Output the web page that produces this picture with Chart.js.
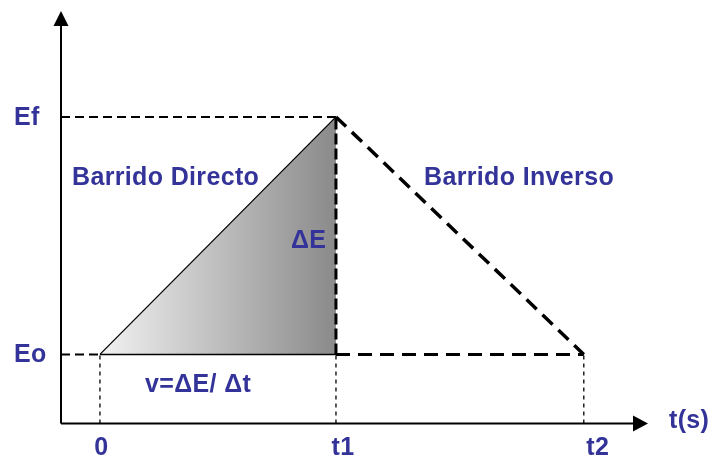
<!DOCTYPE html>
<html>
<head>
<meta charset="utf-8">
<script src="https://cdn.jsdelivr.net/npm/chart.js@4/dist/chart.umd.min.js"></script>
<style>
  html, body { margin: 0; padding: 0; background: #ffffff; }
  #wrap { width: 715px; height: 457px; }
</style>
</head>
<body>
<div id="wrap"><canvas id="c" width="715" height="457"></canvas></div>
<script>
// ---- data ----
const timeValues = [0, 1, 2.05];          // 0, t1, t2
const timeLabels = ['0', 't1', 't2'];
const potentialValues = [1, 2];           // Eo, Ef
const potentialLabels = ['Eo', 'Ef'];
const axisMin = { x: -0.165, y: 0.709 };  // axis origin
const axisMax = { x: 2.322, y: 2.446 };   // arrow tips
const sweepForward = [{x: 0, y: 1}, {x: 1, y: 2}];     // Barrido Directo
const sweepReverse = [{x: 1, y: 2}, {x: 2.05, y: 1}];  // Barrido Inverso
const annotations = ['Barrido Directo', 'Barrido Inverso', 'ΔE', 'v=ΔE/ Δt', 't(s)'];

const T0 = timeValues[0], T1 = timeValues[1], T2 = timeValues[2];
const EO = potentialValues[0], EF = potentialValues[1];
const BLUE = '#333399';
const FONT = 'bold 25px "Liberation Sans", Arial, sans-serif';

function gradientFill(ctx) {
  const chart = ctx.chart;
  const xs = chart.scales.x;
  if (!xs || !chart.chartArea) return '#bbbbbb';
  const g = chart.ctx.createLinearGradient(xs.getPixelForValue(T0), 0, xs.getPixelForValue(T1), 0);
  g.addColorStop(0, '#f2f2f2');
  g.addColorStop(1, '#8a8a8a');
  return g;
}

const seg = (pts, width, dash, extra) => Object.assign({
  data: pts, showLine: true, borderColor: '#000000', borderWidth: width,
  borderDash: dash, pointRadius: 0, fill: false, tension: 0, borderCapStyle: 'butt', order: 1
}, extra || {});

const datasets = [
  // shaded triangle under the forward sweep (drawn first, underneath)
  seg(sweepForward, 1.3, [], { fill: { value: EO }, backgroundColor: gradientFill, order: 10 }),
  // solid base of triangle
  seg([{x: T0, y: EO}, {x: T1, y: EO}], 1.5, [], { order: 9 }),
  // Ef guide
  seg([{x: axisMin.x, y: EF}, {x: T1, y: EF}], 2, [9, 5]),
  // Eo guide left
  seg([{x: axisMin.x, y: EO}, {x: T0, y: EO}], 2, [9, 5]),
  // vertical at t1 (thick dashed)
  seg([{x: T1, y: EO}, {x: T1, y: EF}], 3, [11, 4]),
  // reverse sweep
  seg(sweepReverse, 3.5, [14, 8]),
  // Eo baseline right
  seg([{x: T1, y: EO}, {x: T2, y: EO}], 3, [14, 8]),
  // drop lines to time axis
  seg([{x: T0, y: axisMin.y}, {x: T0, y: EO}], 1.3, [4, 4]),
  seg([{x: T1, y: axisMin.y}, {x: T1, y: EO}], 1.3, [4, 4]),
  seg([{x: T2, y: axisMin.y}, {x: T2, y: EO}], 1.3, [4, 4])
];

const labelsPlugin = {
  id: 'axesAndLabels',
  afterDatasetsDraw(chart) {
    const c = chart.ctx;
    const xs = chart.scales.x, ys = chart.scales.y;
    const ox = xs.getPixelForValue(axisMin.x), oy = ys.getPixelForValue(axisMin.y);
    const tx = xs.getPixelForValue(axisMax.x), ty = ys.getPixelForValue(axisMax.y);
    c.save();
    c.strokeStyle = '#000'; c.fillStyle = '#000'; c.lineWidth = 2; c.setLineDash([]);
    c.beginPath();
    c.moveTo(ox, oy); c.lineTo(ox, ty + 12);
    c.moveTo(ox, oy); c.lineTo(tx - 14, oy);
    c.stroke();
    // arrow heads
    c.beginPath();
    c.moveTo(ox, ty); c.lineTo(ox - 7.5, ty + 15); c.lineTo(ox + 7.5, ty + 15); c.closePath(); c.fill();
    c.beginPath();
    c.moveTo(tx, oy); c.lineTo(tx - 15, oy - 8); c.lineTo(tx - 15, oy + 8); c.closePath(); c.fill();

    // texts
    c.fillStyle = BLUE; c.font = FONT;
    if ('letterSpacing' in c) c.letterSpacing = '0.35px';
    c.textAlign = 'left'; c.textBaseline = 'middle';
    potentialLabels.forEach((lab, i) => {
      c.fillText(lab, 14, ys.getPixelForValue(potentialValues[i]) + 1);
    });
    c.textAlign = 'center'; c.textBaseline = 'alphabetic';
    const dx = [1.5, 7, 14];
    timeLabels.forEach((lab, i) => {
      c.fillText(lab, xs.getPixelForValue(timeValues[i]) + dx[i], 455);
    });
    c.textAlign = 'left';
    c.fillText(annotations[0], 72, 185);
    c.fillText(annotations[1], 424, 185);
    c.fillText(annotations[2], 291, 248);
    c.fillText(annotations[3], 145, 392);
    c.fillText(annotations[4], 669, 428);
    c.restore();
  }
};

new Chart(document.getElementById('c'), {
  type: 'scatter',
  data: { datasets },
  options: {
    responsive: false,
    animation: false,
    layout: { padding: { left: 61, right: 67, top: 11, bottom: 33.5 } },
    plugins: { legend: { display: false }, tooltip: { enabled: false } },
    scales: {
      x: { type: 'linear', display: false, min: axisMin.x, max: axisMax.x },
      y: { type: 'linear', display: false, min: axisMin.y, max: axisMax.y }
    }
  },
  plugins: [labelsPlugin]
});
</script>
</body>
</html>
